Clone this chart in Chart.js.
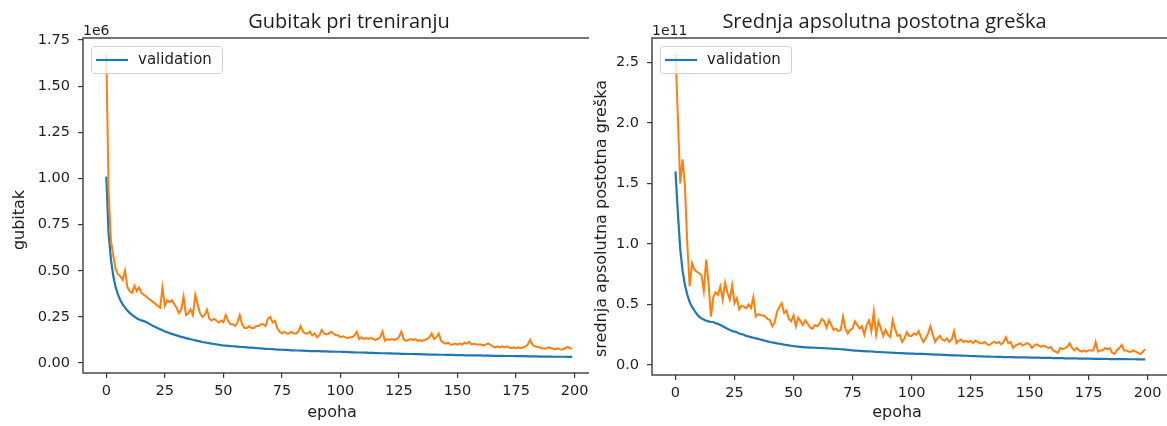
<!DOCTYPE html>
<html>
<head>
<meta charset="utf-8">
<script src="https://cdn.jsdelivr.net/npm/chart.js@4.4.1/dist/chart.umd.min.js"></script>
<style>
  html, body { margin: 0; padding: 0; background: #fff; overflow: hidden; }
  .pane { position: absolute; top: 0; height: 426px; overflow: hidden; }
  #leftPane { left: 0; width: 589px; }
  #rightPane { left: 589px; width: 578px; }
</style>
</head>
<body>
<div class="pane" id="leftPane"><canvas id="lossChart" width="600" height="426"></canvas></div>
<div class="pane" id="rightPane"><canvas id="mapeChart" width="590" height="426"></canvas></div>
<script>
// Tick values shown on the axes
const X_TICKS = [0, 25, 50, 75, 100, 125, 150, 175, 200];
const LOSS_TICKS = [0, 0.25, 0.5, 0.75, 1.0, 1.25, 1.5, 1.75];
const MAPE_TICKS = [0, 0.5, 1.0, 1.5, 2.0, 2.5];

// Loss per epoch, in units of 1e6
const lossValidation = [
    1.01, 0.70, 0.56, 0.47, 0.41, 0.37, 0.34, 0.318, 0.300, 0.285,
    0.272, 0.261, 0.251, 0.243, 0.236, 0.231, 0.227, 0.222, 0.215, 0.208,
    0.201, 0.195, 0.189, 0.183, 0.177, 0.171, 0.167, 0.162, 0.158, 0.154,
    0.150, 0.146, 0.142, 0.139, 0.135, 0.132, 0.129, 0.126, 0.123, 0.120,
    0.117, 0.114, 0.112, 0.110, 0.108, 0.105, 0.103, 0.101, 0.099, 0.097,
    0.095, 0.094, 0.093, 0.092, 0.091, 0.090, 0.089, 0.088, 0.087, 0.086,
    0.085, 0.084, 0.083, 0.082, 0.081, 0.080, 0.079, 0.078, 0.077, 0.076,
    0.076, 0.075, 0.074, 0.073, 0.073, 0.072, 0.071, 0.071, 0.070, 0.069,
    0.069, 0.068, 0.068, 0.067, 0.067, 0.066, 0.066, 0.065, 0.065, 0.064,
    0.064, 0.064, 0.063, 0.063, 0.063, 0.062, 0.062, 0.062, 0.061, 0.061,
    0.061, 0.060, 0.060, 0.059, 0.059, 0.058, 0.058, 0.057, 0.057, 0.057,
    0.056, 0.056, 0.055, 0.055, 0.055, 0.054, 0.054, 0.053, 0.053, 0.053,
    0.052, 0.052, 0.052, 0.051, 0.051, 0.051, 0.050, 0.050, 0.050, 0.049,
    0.049, 0.049, 0.048, 0.048, 0.048, 0.047, 0.047, 0.047, 0.046, 0.046,
    0.046, 0.046, 0.045, 0.045, 0.045, 0.044, 0.044, 0.044, 0.044, 0.043,
    0.043, 0.043, 0.043, 0.042, 0.042, 0.042, 0.042, 0.041, 0.041, 0.041,
    0.041, 0.040, 0.040, 0.040, 0.040, 0.039, 0.039, 0.039, 0.039, 0.039,
    0.038, 0.038, 0.038, 0.038, 0.038, 0.037, 0.037, 0.037, 0.037, 0.037,
    0.036, 0.036, 0.036, 0.036, 0.036, 0.035, 0.035, 0.035, 0.035, 0.035,
    0.035, 0.034, 0.034, 0.034, 0.034, 0.034, 0.034, 0.033, 0.033, 0.033
];
const lossTrain = [
    1.68, 0.92, 0.66, 0.58, 0.51, 0.48, 0.47, 0.45, 0.50, 0.41,
    0.39, 0.38, 0.42, 0.39, 0.41, 0.38, 0.37, 0.36, 0.35, 0.34,
    0.33, 0.32, 0.31, 0.30, 0.41, 0.31, 0.34, 0.33, 0.34, 0.32,
    0.30, 0.27, 0.29, 0.36, 0.26, 0.27, 0.29, 0.26, 0.37, 0.32,
    0.27, 0.25, 0.26, 0.29, 0.24, 0.23, 0.24, 0.23, 0.22, 0.23,
    0.22, 0.26, 0.23, 0.21, 0.21, 0.20, 0.22, 0.26, 0.21, 0.19,
    0.19, 0.20, 0.19, 0.19, 0.20, 0.20, 0.21, 0.21, 0.20, 0.24,
    0.25, 0.22, 0.23, 0.19, 0.17, 0.16, 0.17, 0.16, 0.16, 0.17,
    0.16, 0.16, 0.17, 0.20, 0.17, 0.16, 0.16, 0.17, 0.15, 0.16,
    0.14, 0.15, 0.18, 0.16, 0.155, 0.16, 0.17, 0.16, 0.15, 0.15,
    0.14, 0.145, 0.14, 0.135, 0.14, 0.14, 0.15, 0.17, 0.13, 0.14,
    0.13, 0.135, 0.13, 0.135, 0.13, 0.125, 0.13, 0.14, 0.17, 0.12,
    0.13, 0.125, 0.13, 0.125, 0.13, 0.14, 0.17, 0.13, 0.12, 0.125,
    0.13, 0.125, 0.13, 0.12, 0.125, 0.12, 0.125, 0.13, 0.14, 0.16,
    0.13, 0.14, 0.16, 0.12, 0.11, 0.105, 0.11, 0.10, 0.10, 0.105,
    0.10, 0.105, 0.10, 0.11, 0.105, 0.115, 0.10, 0.105, 0.10, 0.10,
    0.10, 0.095, 0.10, 0.105, 0.10, 0.09, 0.085, 0.09, 0.085, 0.09,
    0.085, 0.09, 0.085, 0.08, 0.085, 0.08, 0.085, 0.08, 0.085, 0.09,
    0.10, 0.125, 0.10, 0.09, 0.088, 0.085, 0.08, 0.078, 0.08, 0.085,
    0.08, 0.077, 0.075, 0.08, 0.073, 0.075, 0.08, 0.088, 0.08, 0.078
];

// Mean absolute percentage error per epoch, in units of 1e11
const mapeValidation = [
    1.60, 1.26, 0.96, 0.78, 0.66, 0.58, 0.52, 0.48, 0.45, 0.42,
    0.40, 0.385, 0.375, 0.365, 0.36, 0.355, 0.355, 0.345, 0.34, 0.33,
    0.32, 0.31, 0.30, 0.29, 0.28, 0.275, 0.27, 0.26, 0.255, 0.25,
    0.24, 0.235, 0.23, 0.225, 0.22, 0.215, 0.21, 0.205, 0.20, 0.195,
    0.19, 0.186, 0.182, 0.178, 0.175, 0.172, 0.168, 0.165, 0.162, 0.159,
    0.156, 0.154, 0.152, 0.150, 0.148, 0.146, 0.145, 0.144, 0.143, 0.142,
    0.141, 0.140, 0.139, 0.138, 0.137, 0.136, 0.135, 0.134, 0.133, 0.132,
    0.130, 0.128, 0.126, 0.124, 0.122, 0.120, 0.119, 0.118, 0.117, 0.115,
    0.114, 0.113, 0.112, 0.111, 0.110, 0.108, 0.107, 0.106, 0.105, 0.104,
    0.103, 0.102, 0.101, 0.100, 0.099, 0.098, 0.097, 0.096, 0.095, 0.094,
    0.094, 0.093, 0.092, 0.092, 0.091, 0.091, 0.090, 0.089, 0.088, 0.087,
    0.086, 0.085, 0.085, 0.084, 0.083, 0.082, 0.081, 0.080, 0.080, 0.079,
    0.078, 0.077, 0.077, 0.076, 0.075, 0.074, 0.073, 0.073, 0.072, 0.071,
    0.071, 0.070, 0.069, 0.069, 0.068, 0.068, 0.067, 0.066, 0.066, 0.065,
    0.065, 0.064, 0.064, 0.064, 0.063, 0.063, 0.063, 0.062, 0.062, 0.062,
    0.061, 0.061, 0.060, 0.060, 0.060, 0.059, 0.059, 0.058, 0.058, 0.058,
    0.057, 0.057, 0.057, 0.056, 0.056, 0.055, 0.055, 0.055, 0.054, 0.054,
    0.054, 0.053, 0.053, 0.053, 0.052, 0.052, 0.052, 0.051, 0.051, 0.051,
    0.050, 0.050, 0.050, 0.050, 0.049, 0.049, 0.049, 0.049, 0.048, 0.048,
    0.048, 0.048, 0.047, 0.047, 0.047, 0.047, 0.046, 0.046, 0.046, 0.046
];
const mapeTrain = [
    2.58, 2.05, 1.50, 1.70, 1.48, 1.00, 0.65, 0.84, 0.79, 0.77,
    0.76, 0.74, 0.61, 0.87, 0.68, 0.40, 0.56, 0.60, 0.58, 0.65,
    0.54, 0.68, 0.60, 0.54, 0.66, 0.51, 0.55, 0.46, 0.49, 0.48,
    0.47, 0.50, 0.47, 0.56, 0.40, 0.42, 0.41, 0.41, 0.40, 0.38,
    0.37, 0.32, 0.35, 0.44, 0.48, 0.51, 0.43, 0.45, 0.38, 0.36,
    0.41, 0.32, 0.39, 0.36, 0.33, 0.37, 0.34, 0.31, 0.30, 0.33,
    0.32, 0.34, 0.38, 0.36, 0.31, 0.37, 0.33, 0.29, 0.30, 0.28,
    0.29, 0.40, 0.30, 0.26, 0.29, 0.30, 0.36, 0.33, 0.30, 0.32,
    0.25, 0.33, 0.37, 0.28, 0.44, 0.25, 0.36, 0.30, 0.24, 0.29,
    0.25, 0.23, 0.37, 0.30, 0.24, 0.25, 0.19, 0.22, 0.27, 0.24,
    0.24, 0.26, 0.25, 0.28, 0.23, 0.19, 0.22, 0.26, 0.32, 0.25,
    0.19, 0.22, 0.24, 0.21, 0.20, 0.22, 0.19, 0.21, 0.28, 0.18,
    0.20, 0.21, 0.19, 0.20, 0.19, 0.20, 0.18, 0.20, 0.19, 0.18,
    0.18, 0.19, 0.17, 0.165, 0.18, 0.19, 0.18, 0.19, 0.17, 0.19,
    0.23, 0.18, 0.19, 0.14, 0.16, 0.17, 0.18, 0.16, 0.17, 0.18,
    0.17, 0.14, 0.16, 0.17, 0.16, 0.15, 0.16, 0.15, 0.14, 0.15,
    0.12, 0.11, 0.10, 0.14, 0.13, 0.14, 0.15, 0.18, 0.14, 0.12,
    0.14, 0.12, 0.11, 0.12, 0.11, 0.12, 0.12, 0.12, 0.19, 0.11,
    0.12, 0.12, 0.14, 0.13, 0.14, 0.10, 0.09, 0.12, 0.14, 0.165,
    0.12, 0.12, 0.11, 0.11, 0.12, 0.11, 0.10, 0.09, 0.11, 0.13
];

const BLUE = '#1f77b4';
const ORANGE = '#ff7f0e';
const INK = '#1e1e1e';
const TICK_FONT = { family: '"DejaVu Sans", sans-serif', size: 14.5 };

// epoch index -> {x, y} for the linear x axis
function toPoints(values) {
    return values.map((v, i) => ({ x: i, y: v }));
}

// Matplotlib-ish decorations: full box, title, offset label, axis labels, legend.
const decorPlugin = {
    id: 'decor',
    afterDraw(chart, args, o) {
        const { ctx, chartArea: a } = chart;
        ctx.save();
        ctx.strokeStyle = '#3a3a3a';
        ctx.lineWidth = 1.4;
        ctx.strokeRect(a.left, a.top, a.right - a.left, a.bottom - a.top);

        ctx.fillStyle = INK;
        ctx.font = '20px "Open Sans", sans-serif';
        ctx.textAlign = 'center';
        ctx.textBaseline = 'alphabetic';
        ctx.fillText(o.title, o.titleX, 28);

        ctx.font = '14px "DejaVu Sans", sans-serif';
        ctx.textAlign = 'left';
        ctx.fillText(o.offsetLabel, a.left, 35);

        ctx.font = '16px "DejaVu Sans", sans-serif';
        ctx.textAlign = 'center';
        ctx.textBaseline = 'middle';
        ctx.fillText(o.xLabel, o.xLabelX, 413);
        ctx.save();
        ctx.translate(o.yLabelX, o.yLabelY);
        ctx.rotate(-Math.PI / 2);
        ctx.fillText(o.yLabel, 0, 0);
        ctx.restore();

        // legend box
        const bx = a.left + 8, by = 46, bw = 131, bh = 27;
        ctx.fillStyle = 'rgba(255,255,255,0.8)';
        ctx.strokeStyle = '#d0d0d0';
        ctx.lineWidth = 1;
        ctx.beginPath();
        ctx.roundRect(bx + 0.5, by + 0.5, bw, bh, 3);
        ctx.fill();
        ctx.stroke();
        ctx.strokeStyle = BLUE;
        ctx.lineWidth = 2.2;
        ctx.beginPath();
        ctx.moveTo(bx + 5, by + 14);
        ctx.lineTo(bx + 37, by + 14);
        ctx.stroke();
        ctx.font = '15px "DejaVu Sans", sans-serif';
        ctx.fillStyle = INK;
        ctx.textAlign = 'left';
        ctx.fillText(o.legendText, bx + 47, by + 14);
        ctx.restore();
    }
};

function makeChart(canvasId, trainVals, valVals, yTicks, yMin, yMax, yDecimals, pad, yWidth, decor) {
    return new Chart(document.getElementById(canvasId), {
        type: 'line',
        data: {
            datasets: [
                { label: 'train', data: toPoints(trainVals), borderColor: ORANGE, borderWidth: 2, pointRadius: 0, tension: 0, order: 0 },
                { label: 'validation', data: toPoints(valVals), borderColor: BLUE, borderWidth: 2.2, pointRadius: 0, tension: 0, order: 1 },
            ],
        },
        options: {
            responsive: false,
            animation: false,
            layout: { padding: pad },
            plugins: {
                legend: { display: false },
                tooltip: { enabled: false },
                decor,
            },
            scales: {
                x: {
                    type: 'linear',
                    min: -9.95,
                    max: 208.95,
                    afterBuildTicks: s => { s.ticks = X_TICKS.map(v => ({ value: v })); },
                    afterFit: s => { s.height = 426 - pad.bottomEdge; },
                    grid: { drawOnChartArea: false, drawTicks: true, tickLength: 5, color: '#3a3a3a', lineWidth: 1.2 },
                    border: { display: false },
                    ticks: { font: TICK_FONT, color: INK, padding: 5, maxRotation: 0, autoSkip: false },
                },
                y: {
                    min: yMin,
                    max: yMax,
                    afterBuildTicks: s => { s.ticks = yTicks.map(v => ({ value: v })); },
                    afterFit: s => { s.width = yWidth; },
                    grid: { drawOnChartArea: false, drawTicks: true, tickLength: 5, color: '#3a3a3a', lineWidth: 1.2 },
                    border: { display: false },
                    ticks: {
                        font: TICK_FONT, color: INK, padding: 8, autoSkip: false,
                        callback: v => Number(v).toFixed(yDecimals),
                    },
                },
            },
        },
        plugins: [decorPlugin],
    });
}

makeChart('lossChart', lossTrain, lossValidation, LOSS_TICKS, -0.054, 1.761, 2,
    { top: 38, right: 4.5, left: 0, bottom: 0, bottomEdge: 373 }, 83,
    { title: 'Gubitak pri treniranju', titleX: 349, offsetLabel: '1e6', xLabel: 'epoha', xLabelX: 332,
      yLabel: 'gubitak', yLabelX: 20, yLabelY: 220, legendText: 'validation' });

makeChart('mapeChart', mapeTrain, mapeValidation, MAPE_TICKS, -0.083, 2.702, 1,
    { top: 38, right: 10.3, left: 0, bottom: 0, bottomEdge: 375 }, 63,
    { title: 'Srednja apsolutna postotna greška', titleX: 295.5, offsetLabel: '1e11', xLabel: 'epoha', xLabelX: 308,
      yLabel: 'srednja apsolutna postotna greška', yLabelX: 13, yLabelY: 218.5, legendText: 'validation' });
</script>
</body>
</html>
